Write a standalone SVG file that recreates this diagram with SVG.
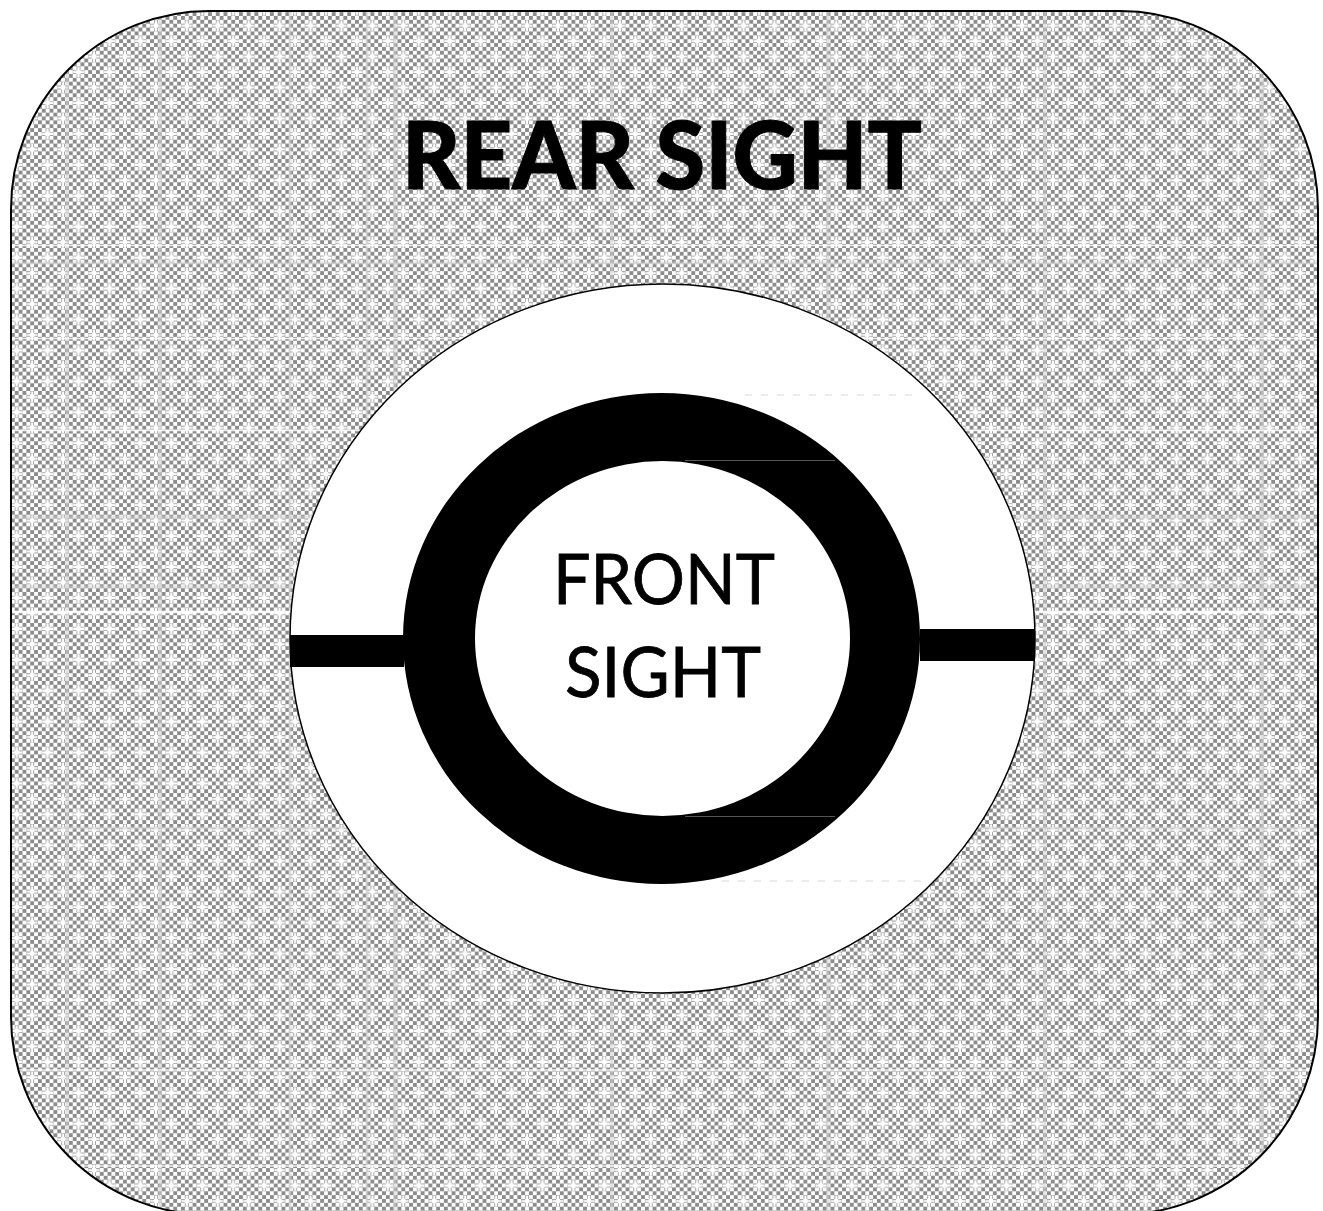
<svg xmlns="http://www.w3.org/2000/svg" width="1323" height="1211" viewBox="0 0 1323 1211">
  <defs>
    <pattern id="chk" patternUnits="userSpaceOnUse" x="-0.700" y="4.400" width="7.732" height="7.732">
      <rect width="7.732" height="7.732" fill="#ffffff"/>
      <rect x="0" y="0" width="3.866" height="3.866" fill="#8c8c8c"/>
      <rect x="3.866" y="3.866" width="3.866" height="3.866" fill="#8c8c8c"/>
    </pattern>
    <pattern id="stars" patternUnits="userSpaceOnUse" x="-0.700" y="4.400" width="30.930" height="30.930">
      <path d="M15.400 3.800h4v4h-4zM11.800 4.600h11.200v2.400h-11.200zM16.200 0.200h2.400v11.200h-2.400zM-0.100 19.300h4v4h-4zM-3.700 20.100h11.200v2.400h-11.200zM27.230 20.100h11.200v2.400h-11.200zM0.700 15.700h2.400v11.200h-2.400z" fill="#ffffff"/>
    </pattern>
  </defs>
  <style>
    .t{font-family:"Lato","Carlito","Liberation Sans",sans-serif;fill:#000;stroke:#000;text-anchor:start}
    .seam{fill:none}
    .faint{stroke:#d8d8d8;stroke-width:1;stroke-dasharray:7 9;fill:none}
    .hair{stroke:#555555;stroke-width:1;fill:none}
  </style>
  <rect width="1323" height="1211" fill="#ffffff"/>
  <clipPath id="panel"><rect x="11" y="11" width="1307" height="1203.500" rx="198" ry="198"/></clipPath>
  <g id="rear-sight-panel">
    <rect x="11" y="11" width="1307" height="1203.500" rx="198" ry="198" fill="url(#chk)"/>
    <rect x="11" y="11" width="1307" height="1203.500" rx="198" ry="198" fill="url(#stars)"/>
    <g clip-path="url(#panel)" class="seam">
      <path d="M67 0V1211M160 0V1211M290 0V1211M367 0V1211M395 0V1211M612 0V1211M828 0V1211M1045 0V1211M1262 0V1211" stroke="#d0d0d0" stroke-width="3" stroke-opacity=".6"/>
      <path d="M0 263H1323M0 517H1323M0 587H1323M0 828H1323" stroke="#d0d0d0" stroke-width="3" stroke-opacity=".5"/>
      <path d="M0 245.500H1323M0 338.500H1323M0 430.500H1323M0 1070H1323M0 1166H1323" stroke="#ffffff" stroke-width="1.500" stroke-opacity=".85"/>
      <path d="M0 612H1323" stroke="#ffffff" stroke-width="2.500" stroke-opacity=".9"/>
    </g>
    <rect x="11" y="11" width="1307" height="1203.500" rx="198" ry="198" fill="none" stroke="#000" stroke-width="2"/>
    <text class="t" x="402" y="189" font-size="94" textLength="520" lengthAdjust="spacingAndGlyphs" style="font-weight:900;stroke-width:1">REAR SIGHT</text>
  </g>
  <g id="aperture">
    <ellipse cx="662.500" cy="638.500" rx="372.500" ry="354.500" fill="#ffffff" stroke="#000" stroke-width="1.500"/>
    <path class="faint" d="M745 395H920M722 881H930"/>
  </g>
  <g id="crosshair-bars">
    <rect x="290" y="635" width="114" height="32" fill="#000"/>
    <rect x="920" y="629" width="115" height="32" fill="#000"/>
  </g>
  <g id="front-sight">
    <ellipse cx="661.500" cy="638.500" rx="258.500" ry="245.500" fill="#000"/>
    <ellipse cx="662.500" cy="638.500" rx="187.500" ry="177.500" fill="#ffffff"/>
    <path class="hair" d="M685 460.500H835M685 816.500H835"/>
    <text class="t" x="553" y="604" font-size="70" textLength="222" lengthAdjust="spacingAndGlyphs" style="stroke-width:.8">FRONT</text>
    <text class="t" x="565" y="697" font-size="70" textLength="196" lengthAdjust="spacingAndGlyphs" style="stroke-width:.8">SIGHT</text>
  </g>
</svg>
